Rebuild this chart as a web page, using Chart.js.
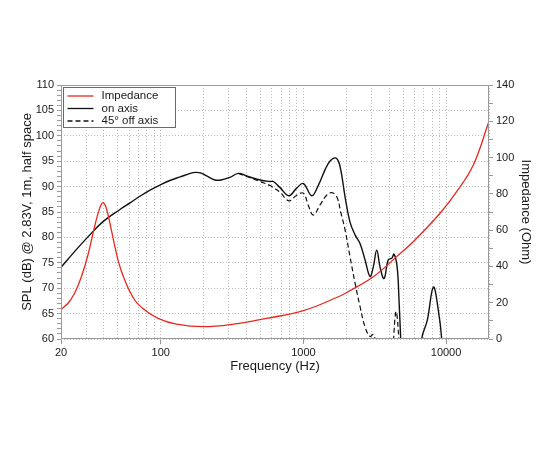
<!DOCTYPE html>
<html>
<head>
<meta charset="utf-8">
<script src="https://cdn.jsdelivr.net/npm/chart.js@4.4.1/dist/chart.umd.min.js"></script>
<style>
html,body{margin:0;padding:0;background:#fff;}
#wrap{width:550px;height:450px;position:relative;}
</style>
</head>
<body>
<div id="wrap"><canvas id="c" width="550" height="450"></canvas></div>
<script>
// ---- data ----
const impFreq  = [20, 22.4, 24.9, 27.8, 30.9, 34.4, 37.3, 39.4, 41.6, 45.1, 50.2, 55.9, 65.7, 77.3, 95.7, 129, 199, 323, 553, 1000, 1806, 2000, 3090, 4507, 6054, 9077, 11870, 15530, 20000];
const impValue = [16.3, 19.7, 25.2, 34.3, 46.3, 61.9, 72, 75.1, 72, 60, 43.5, 32.5, 21.5, 16, 11.4, 8.2, 6.8, 8.2, 11.4, 15.6, 23.7, 25.5, 34.3, 45.4, 54.6, 69.3, 81.2, 95.9, 120];

const onFreq  = [20, 24.9, 30.9, 39.4, 51.8, 60.9, 71.5, 84.2, 98.8, 116, 137, 161, 175, 190, 210, 240, 265, 305, 350, 400, 497, 583, 616, 686, 791, 897, 1000, 1145, 1275, 1418, 1535, 1693, 1806, 1959, 2122, 2302, 2494, 2703, 2931, 3090, 3267, 3444, 3675, 3936, 4160, 4317, 4540, 4680, 4810, 5000, 6500, 6748, 7390, 8146, 8826, 9320, 9700];
const onValue = [74.1, 77.2, 80.1, 83.1, 85.5, 86.8, 88.1, 89.3, 90.3, 91.2, 91.9, 92.6, 92.8, 92.7, 92.1, 91.3, 91.3, 91.8, 92.6, 92.1, 91.3, 91.0, 91.0, 89.8, 88.2, 89.7, 90.6, 88.2, 90.3, 93.3, 95.0, 95.6, 94.0, 88.0, 83.0, 80.5, 78.8, 75.6, 72.3, 74.2, 77.5, 74.2, 71.9, 75.6, 75.9, 76.7, 74.2, 67.7, 60, 50, 50, 60, 63.7, 70.2, 65.7, 60, 50];

const offFreq  = [350, 400, 497, 583, 686, 791, 897, 1000, 1080, 1173, 1308, 1456, 1577, 1713, 1826, 1959, 2122, 2302, 2494, 2703, 2931, 3090, 3220, 3400, 4150, 4270, 4440, 4540, 4680, 4800];
const offValue = [92.6, 92.0, 91.0, 90.2, 88.9, 87.2, 88.3, 88.7, 86.4, 84.4, 86.4, 88.3, 88.8, 88.0, 85.0, 81.5, 76.2, 71.0, 66.4, 62.4, 60.5, 60.9, 59, 52, 52, 59, 65.4, 64.4, 59, 50];

const seriesLabels = ['Impedance', 'on axis', '45° off axis'];
const freqTickLabels = [20, 100, 1000, 10000];
const splTickLabels = [60, 65, 70, 75, 80, 85, 90, 95, 100, 105, 110];
const impTickLabels = [0, 20, 40, 60, 80, 100, 120, 140];

const toXY = (xs, ys) => xs.map((x, i) => ({x: x, y: ys[i]}));

// grid positions for log axis (1..9 per decade)
const freqGrid = [];
for (let d = 10; d <= 10000; d *= 10) for (let m = 1; m <= 9; m++) { const v = d * m; if (v >= 20 && v <= 20000) freqGrid.push(v); }
if (!freqGrid.includes(20000)) freqGrid.push(20000);

const RED = '#e8281f';
const GRID = '#bdbdbd';
const FRAME = '#9a9a9a';
Chart.defaults.font.family = '"Liberation Sans", Arial, Helvetica, sans-serif';
Chart.defaults.color = '#1a1a1a';

const framePlugin = {
  id: 'frame',
  afterDraw(chart) {
    const {ctx, chartArea: a} = chart;
    ctx.save();
    ctx.strokeStyle = FRAME; ctx.lineWidth = 1;
    ctx.setLineDash([]);
    ctx.strokeRect(Math.round(a.left) + 0.5, Math.round(a.top) + 0.5, Math.round(a.right - a.left) - 1, Math.round(a.bottom - a.top) - 1);
    // legend
    const x0 = a.left + 2.5, y0 = a.top + 2.5, w = 112, h = 40;
    ctx.fillStyle = '#fff';
    ctx.fillRect(x0, y0, w, h);
    ctx.strokeStyle = '#6a6a6a';
    ctx.strokeRect(x0, y0, w, h);
    ctx.font = '11.5px "Liberation Sans", Arial, sans-serif';
    ctx.textBaseline = 'middle';
    ctx.textAlign = 'left';
    chart.data.datasets.forEach((ds, i) => {
      const yy = y0 + 8.5 + i * 12.5;
      ctx.beginPath();
      ctx.strokeStyle = ds.borderColor;
      ctx.lineWidth = 1.3;
      ctx.setLineDash(ds.borderDash || []);
      ctx.moveTo(x0 + 4, yy); ctx.lineTo(x0 + 30, yy);
      ctx.stroke();
      ctx.setLineDash([]);
      ctx.fillStyle = '#1a1a1a';
      ctx.fillText(ds.label, x0 + 38, yy);
    });
    ctx.restore();
  }
};

new Chart(document.getElementById('c'), {
  type: 'line',
  data: {
    datasets: [
      {label: seriesLabels[0], data: toXY(impFreq, impValue), yAxisID: 'y2', borderColor: RED, borderWidth: 1.3, pointRadius: 0, tension: 0.4, clip: 0, fill: false},
      {label: seriesLabels[1], data: toXY(onFreq, onValue), yAxisID: 'y', borderColor: '#111', borderWidth: 1.4, pointRadius: 0, tension: 0.4, clip: 0, fill: false},
      {label: seriesLabels[2], data: toXY(offFreq, offValue), yAxisID: 'y', borderColor: '#111', borderWidth: 1.2, borderDash: [5, 3], pointRadius: 0, tension: 0.4, clip: 0, fill: false}
    ]
  },
  options: {
    responsive: false,
    animation: false,
    layout: {padding: {top: 85, left: 0, right: 0, bottom: 0}},
    plugins: {legend: {display: false}, tooltip: {enabled: false}},
    scales: {
      x: {
        type: 'logarithmic', min: 20, max: 20000, position: 'bottom',
        afterBuildTicks: s => { s.ticks = freqGrid.map(v => ({value: v})); },
        afterFit: s => { s.height = 111; },
        ticks: {autoSkip: false, maxRotation: 0, padding: 2, font: {size: 11},
          callback: v => freqTickLabels.includes(v) ? String(v) : ''},
        grid: {color: GRID, lineWidth: 1, tickLength: 5,
          tickColor: c => (c.tick && freqTickLabels.includes(c.tick.value)) ? FRAME : 'rgba(0,0,0,0)'},
        border: {display: false, dash: [1, 2]},
        title: {display: true, text: 'Frequency (Hz)', font: {size: 13}, padding: {top: 0, bottom: 76}}
      },
      y: {
        type: 'linear', min: 60, max: 110, position: 'left',
        afterBuildTicks: s => { const t = []; for (let v = 60; v <= 110; v++) t.push({value: v}); s.ticks = t; },
        afterFit: s => { s.width = 61; },
        ticks: {autoSkip: false, padding: 3, font: {size: 11},
          callback: v => splTickLabels.includes(v) ? String(v) : ''},
        grid: {color: c => (c.tick && splTickLabels.includes(c.tick.value)) ? GRID : 'rgba(0,0,0,0)', tickLength: 4, tickColor: FRAME},
        border: {display: false, dash: [1, 2]},
        title: {display: true, text: 'SPL (dB) @ 2.83V, 1m, half space', font: {size: 13}, padding: {top: 20, bottom: 0}}
      },
      y2: {
        type: 'linear', min: 0, max: 140, position: 'right',
        afterBuildTicks: s => { const t = []; for (let v = 0; v <= 140; v += 10) t.push({value: v}); s.ticks = t; },
        afterFit: s => { s.width = 61; },
        ticks: {autoSkip: false, padding: 3, font: {size: 11},
          callback: v => impTickLabels.includes(v) ? String(v) : ''},
        grid: {drawOnChartArea: false, tickLength: 4, tickColor: FRAME},
        border: {display: false},
        title: {display: true, text: 'Impedance (Ohm)', font: {size: 13}, padding: {top: 17, bottom: 0}}
      }
    }
  },
  plugins: [framePlugin]
});
</script>
</body>
</html>
